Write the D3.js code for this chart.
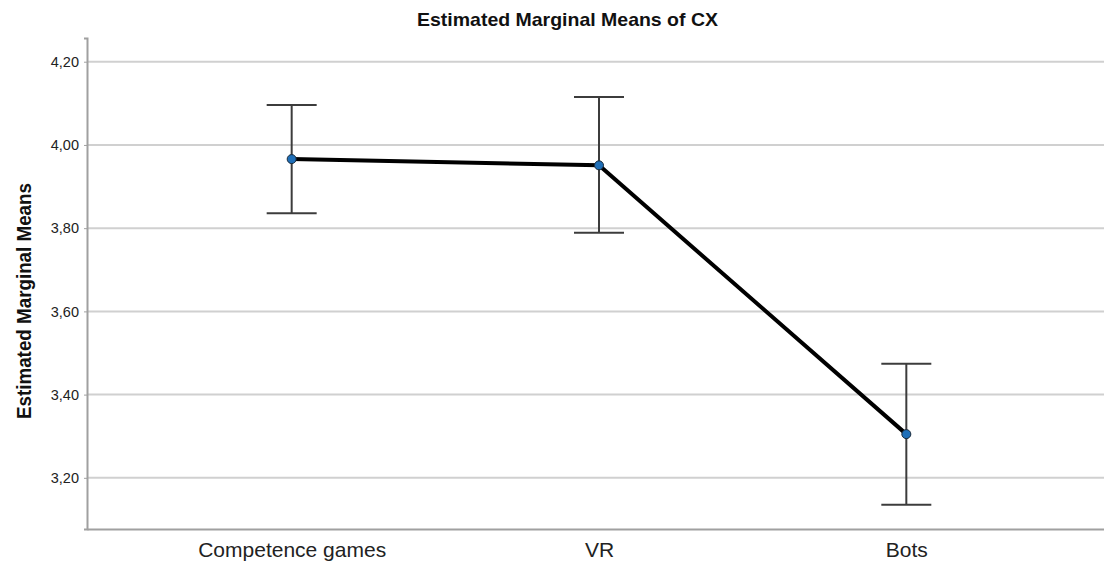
<!DOCTYPE html>
<html>
<head>
<meta charset="utf-8">
<script src="https://cdn.jsdelivr.net/npm/d3@7"></script>
<style>
  body { margin: 0; background: #fff; }
  svg { display: block; font-family: "Liberation Sans", Arial, sans-serif; }
</style>
</head>
<body>
<div id="chart"></div>
<script>
// data
const categories = ["Competence games", "VR", "Bots"];
const means = [3.966, 3.951, 3.305];
const ciLower = [3.836, 3.789, 3.135];
const ciUpper = [4.096, 4.115, 3.474];
const yTicks = [3.2, 3.4, 3.6, 3.8, 4.0, 4.2];

const width = 1104, height = 563;
const margin = { top: 38, right: -7, bottom: 34, left: 87 };

const svg = d3.select("#chart").append("svg")
    .attr("width", width)
    .attr("height", height);

const x = d3.scalePoint()
    .domain(categories)
    .range([margin.left, width - margin.right])
    .padding(0.666);

const y = d3.scaleLinear()
    .domain([3.077, 4.257])
    .range([height - margin.bottom, margin.top]);

// gridlines
svg.append("g")
    .selectAll("line")
    .data(yTicks)
    .join("line")
    .attr("x1", margin.left)
    .attr("x2", width)
    .attr("y1", d => y(d))
    .attr("y2", d => y(d))
    .attr("stroke", "#d0d0d0")
    .attr("stroke-width", 2);

// y axis
const yAxis = svg.append("g")
    .attr("transform", `translate(${margin.left},0)`)
    .call(d3.axisLeft(y).tickValues(yTicks).tickSize(3).tickFormat(d => d3.format(".2f")(d).replace(".", ",")));
yAxis.select(".domain").attr("stroke", "#a0a0a0").attr("stroke-width", 2);
yAxis.selectAll(".tick line").attr("stroke", "#a0a0a0");
yAxis.selectAll(".tick text")
    .attr("font-size", 14.5)
    .attr("fill", "#222")
    .attr("x", -8);

// x axis
const xAxis = svg.append("g")
    .attr("transform", `translate(0,${height - margin.bottom})`)
    .call(d3.axisBottom(x).tickSize(0).tickPadding(13));
xAxis.select(".domain").attr("stroke", "#a0a0a0").attr("stroke-width", 2);
xAxis.selectAll(".tick text")
    .attr("font-size", 21)
    .attr("fill", "#222");

// error bars
const rows = categories.map((c, i) => ({ c, m: means[i], lo: ciLower[i], hi: ciUpper[i] }));
const eb = svg.append("g")
    .attr("stroke", "#3c3c3c")
    .attr("stroke-width", 2);
eb.selectAll(".stem")
    .data(rows)
    .join("line")
    .attr("x1", d => x(d.c)).attr("x2", d => x(d.c))
    .attr("y1", d => y(d.lo)).attr("y2", d => y(d.hi));
eb.selectAll(".capTop")
    .data(rows)
    .join("line")
    .attr("x1", d => x(d.c) - 25).attr("x2", d => x(d.c) + 25)
    .attr("y1", d => y(d.hi)).attr("y2", d => y(d.hi));
eb.selectAll(".capBot")
    .data(rows)
    .join("line")
    .attr("x1", d => x(d.c) - 25).attr("x2", d => x(d.c) + 25)
    .attr("y1", d => y(d.lo)).attr("y2", d => y(d.lo));

// mean line
svg.append("path")
    .datum(rows)
    .attr("fill", "none")
    .attr("stroke", "#000")
    .attr("stroke-width", 4)
    .attr("d", d3.line().x(d => x(d.c)).y(d => y(d.m)));

svg.append("g")
    .selectAll("circle")
    .data(rows)
    .join("circle")
    .attr("cx", d => x(d.c))
    .attr("cy", d => y(d.m))
    .attr("r", 4.5)
    .attr("fill", "#1f6fb8")
    .attr("stroke", "#1a2a3a")
    .attr("stroke-width", 1);

// title and y label
svg.append("text")
    .attr("x", 567.5)
    .attr("y", 26)
    .attr("text-anchor", "middle")
    .attr("font-size", 19)
    .attr("font-weight", "bold")
    .attr("fill", "#111")
    .attr("textLength", 301)
    .attr("lengthAdjust", "spacingAndGlyphs")
    .text("Estimated Marginal Means of CX");

svg.append("text")
    .attr("transform", "translate(31,301) rotate(-90)")
    .attr("text-anchor", "middle")
    .attr("font-size", 21)
    .attr("font-weight", "bold")
    .attr("fill", "#111")
    .attr("textLength", 236)
    .attr("lengthAdjust", "spacingAndGlyphs")
    .text("Estimated Marginal Means");
</script>
</body>
</html>
